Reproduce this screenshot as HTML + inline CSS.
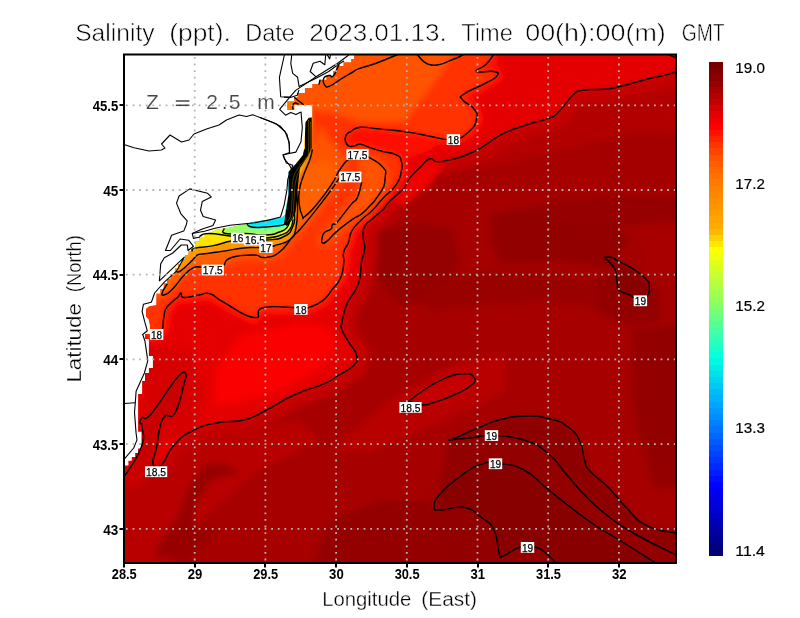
<!DOCTYPE html><html><head><meta charset="utf-8"><style>html,body{margin:0;padding:0;background:#fff;width:800px;height:618px;overflow:hidden}svg{display:block;will-change:transform}text{font-family:"Liberation Sans",sans-serif}</style></head><body>
<svg width="800" height="618" viewBox="0 0 800 618">
<defs><clipPath id="sea"><polygon points="354,54 676,54 676,563 124,563 124,465.6 128.4,465.6 128.4,460.8 131.8,460.8 131.8,456.9 135.2,456.9 135.2,453 138.1,453 138.1,448.6 141.5,448.6 141.5,431.7 138.1,431.7 138.1,394 142.1,394 142.1,381 145,381 145,373 148.9,373 148.9,368 152.9,368 152.9,356 148.9,356 148.9,339 145,339 145,334 149.9,334 149.9,325.6 148.6,319.2 146,316.6 146,308.8 149.2,306.2 156.3,305 156.2,297 156.2,293.4 160.2,293.4 160.2,288.9 163.6,288.9 163.6,283.2 167,283.2 167,278.7 170.4,278.7 170.4,274.2 174.9,274.2 174.9,268.5 178.3,268.5 178.3,264 181.7,264 181.7,259 185.1,259 185.1,255 188.5,255 188.5,251 191.9,251 191.9,247 195.3,247 195.3,241.3 199.5,241.3 199.5,237 204,237 204,234.5 209,233.5 216.5,229.7 230,227.5 240.5,225.2 255,221.5 270,219.5 281,218 285,215 286.5,205 288.5,194 288.5,172 292,168 296,163.7 303,155 304.3,147 305.6,122.3 308.8,117.8 312.2,117.2 312.2,105 294.2,105 294.2,109.9 287.4,109.9 287.4,101.6 294.2,101.6 294.2,97.2 297.6,97.2 297.6,92.9 304.9,92.9 304.9,88 312.2,88 312.2,84.1 319.5,84.1 319.5,79.8 326.3,79.8 326.3,75.9 333.1,75.9 333.1,71 336.5,71 336.5,66.1 343.3,66.1 343.3,62.3 351.1,62.3 351.1,58.9 354,58.9"/></clipPath><clipPath id="box"><rect x="124" y="54.5" width="552" height="508.5"/></clipPath><filter id="bl" x="-5%" y="-5%" width="110%" height="110%"><feGaussianBlur stdDeviation="3"/></filter><filter id="bl2"><feGaussianBlur stdDeviation="0.8"/></filter></defs>
<g clip-path="url(#sea)"><g filter="url(#bl)"><rect x="90" y="20" width="620" height="580" fill="#a60000"/><polygon fill="#b80000" points="90,470 90,600 150,600 200,520 260,470 320,440 300,420 240,430 180,450" /><polygon fill="#b80000" points="330,450 390,400 460,362 505,355 505,392 450,418 370,452" /><polygon fill="#b20000" points="490,30 710,30 710,135 640,130 600,140 560,150 520,160 480,170" /><polygon fill="#a40000" points="600,140 710,140 710,320 650,320 630,250" /><polygon fill="#950000" points="378,232 420,222 452,228 460,262 440,300 400,305 378,280" /><polygon fill="#930000" points="490,215 540,205 600,212 630,240 610,268 560,262 500,265 490,240" /><polygon fill="#960000" points="545,200 600,196 680,196 680,222 620,226 560,222" /><polygon fill="#930000" points="590,280 630,270 660,290 660,322 620,325 590,305" /><polygon fill="#a80000" points="640,228 680,225 680,280 650,280" /><polygon fill="#990000" points="420,290 470,272 540,270 600,285 600,305 540,300 470,305 430,310" /><polygon fill="#930000" points="632,330 710,320 710,480 655,490 635,420" /><polygon fill="#980000" points="241.5,475 224,462.5 204,465 189,485 179,515 161.5,540 154,557.5 186.5,560 219,530 194,527.5 196.5,502.5 211.5,480 229,475" /><polygon fill="#940000" points="300,600 330,520 380,500 430,500 470,600" /><polygon fill="#930000" points="449,440 456.5,437.5 479,427.5 500,419.8 524.3,416.2 548.5,418.6 568,427 580,441.7 584.5,460 590,471.3 608,487 626,507.3 646.4,525.3 676,533 710,533 710,600 470,600 440,530 434,506 445,460" /><polygon fill="#8e0000" points="449,440 456.5,437.5 479,427.5 500,419.8 524.3,416.2 548.5,418.6 568,427 580,441.7 584.5,460 590,471.3 608,487 626,507.3 646.4,525.3 676,533 710,533 710,555 676,555 635,534 608,516 585.6,496 567.6,475.8 548.5,453.8 524,440 491.5,435.5 474,437.5 449,440" /><polygon fill="#880000" points="556,563 545,552.3 533.8,546.7 519,547.5 502.75,556.25 499,552.5 494,530 481.5,517.5 464,507.5 441.5,510 434,506.25 441.5,492.5 459,477.5 479,465 499,463.75 524,470 545,487 567.6,505 594.6,525 624,543 655,562.5 655,600 556,600" /><polygon fill="#880000" points="604.4,257.5 611.7,257.5 619,261.6 631,267.7 645.6,278.6 649.3,287 646.8,296.8 640.3,300.4 628.6,294.4 619,289.5 616.5,277.4 614,267.7" /><polygon fill="#bc0000" stroke="#bc0000" stroke-width="16" stroke-linejoin="round" points="409,401.25 424,390 444,378.75 464,373.75 474,377.5 471.5,385 454,395 434,402.5 421.5,405"/><polygon fill="#c60000" points="409,401.25 424,390 444,378.75 464,373.75 474,377.5 471.5,385 454,395 434,402.5 421.5,405" /><polyline fill="none" stroke="#c20000" stroke-width="26" stroke-linejoin="round" points="676,71 667.5,74.6 645.6,79.5 619,86.8 604.4,89.2 582.5,90.4 572.8,95.3 558.25,112.25 548.5,118.3 524.3,125.6 500,135.3 474,151.5 441.5,161.5 430,158.8 420.6,166.9 410.9,176.6 406,184.7 402.8,189.6 389.9,200.9 382.5,210 371.2,219.7 364.7,226.2 363.1,235.9 364.7,248.8 361.5,261.8 359.9,278 355,290.9 346.9,303.9 342,322 342,330 349,342.5 356.5,355 354,365 339,375 324,383.75 294,395 266.5,410 244,420 219,422.5 194,430 174,445 161.5,465"/><polygon fill="#e40000" points="710,71 676,71 667.5,74.6 645.6,79.5 619,86.8 604.4,89.2 582.5,90.4 572.8,95.3 558.25,112.25 548.5,118.3 524.3,125.6 500,135.3 474,151.5 441.5,161.5 430,158.8 420.6,166.9 410.9,176.6 406,184.7 402.8,189.6 389.9,200.9 382.5,210 371.2,219.7 364.7,226.2 363.1,235.9 364.7,248.8 361.5,261.8 359.9,278 355,290.9 346.9,303.9 342,322 342,330 349,342.5 356.5,355 354,365 339,375 324,383.75 294,395 266.5,410 244,420 219,422.5 194,430 174,445 161.5,465 153,464 156.4,448 162.8,418.8 175,412.8 184.7,381.3 185.9,375.2 182.3,372.8 172.5,383.7 155.6,408 147,417.7 142.2,417.7 139.8,422.5 142.2,427.4 141,448 124,477 90,477 90,20 710,20" /><polyline fill="none" stroke="#ff0800" stroke-width="14" stroke-linejoin="round" points="494,54 486.5,64 476.5,71.5 494,71.5 496.5,76.5 484,84 464,94 462.75,100 474,109 476.5,119 469,131.5 453,139.5 430,136.2 407.7,132.1 378.5,128.9 360.7,127.3 351,131.3 346.2,135.4 345.4,141 348.6,145.9 354.3,145.9 360.7,144.3 372,148.3 383.4,151.6 396.3,154.8 401.2,160.5 401.2,171.8 396.3,184.7 383.4,197.7 372.8,210 361.5,219.7 351.8,231 348.5,242.4 343.7,252.1 343.7,263.4 340.5,278 332.4,289.3 322.7,300.6 309.7,307.1 301,308 264,307.5 254,317.5 224,302.5 210,293.75 199,295 184,297.5 181,293 178,297 173.2,301 166.7,307.5 164.1,315.3 162.8,328.2 156,335 145,335"/><polygon fill="#fa0000" points="240,335 300,322 328,326 336,348 318,370 290,386 250,400 215,405 215,370" /><polygon fill="#d60000" points="145,345 190,352 205,390 196,425 170,440 145,440" /><polygon fill="#f20000" points="420,165 445,160 430,185 400,205 390,190" /><polygon fill="#c80000" points="153,464 156.4,448 162.8,418.8 175,412.8 184.7,381.3 185.9,375.2 182.3,372.8 172.5,383.7 155.6,408 147,417.7 142.2,417.7 139.8,422.5 142.2,427.4 141,448 124,477 124,490 150,480" /><polygon fill="#ff3000" points="494,20 494,54 486.5,64 476.5,71.5 494,71.5 496.5,76.5 484,84 464,94 462.75,100 474,109 476.5,119 469,131.5 453,139.5 430,136.2 407.7,132.1 378.5,128.9 360.7,127.3 351,131.3 346.2,135.4 345.4,141 348.6,145.9 354.3,145.9 360.7,144.3 372,148.3 383.4,151.6 396.3,154.8 401.2,160.5 401.2,171.8 396.3,184.7 383.4,197.7 372.8,210 361.5,219.7 351.8,231 348.5,242.4 343.7,252.1 343.7,263.4 340.5,278 332.4,289.3 322.7,300.6 309.7,307.1 301,308 264,307.5 254,317.5 224,302.5 210,293.75 199,295 184,297.5 181,293 178,297 173.2,301 166.7,307.5 164.1,315.3 162.8,328.2 156,335 145,335 90,335 90,20" /><polygon fill="#ff1000" points="346,140 351,131.3 360.7,127.3 378.5,128.9 407.7,132.1 430,136.2 445,138 430,150 401.2,160.5 396.3,154.8 383.4,151.6 372,148.3 360.7,144.3 354.3,145.9 348.6,145.9" /><polyline fill="none" stroke="#ff4200" stroke-width="12" stroke-linejoin="round" points="339,178.3 330.8,190.5 321.1,203.4 308.2,219.6 298.5,230.9 292,237.4 279,252.5 264,257.5 254,255 231.5,257.5 224,265"/><polyline fill="none" stroke="#ff4200" stroke-width="12" stroke-linejoin="round" points="368.5,157 382.5,166.7 385.2,177.4 379.9,193.4 364.7,211.2 352,219.6 337.3,230.9 327.6,240.6 322.7,243 321.9,239 324.4,232.5 330.8,229.3 332.5,224.4 335.7,223.6 340.5,218 352,203.4 356,200 359.1,192.8 361.6,182.5"/><polyline fill="none" stroke="#ff4200" stroke-width="12" stroke-linejoin="round" points="312.2,150 309.8,159.7 303.3,175.9 299.3,190.5 299.3,205 302.5,216.3 305,216.3 316.3,205 330.8,185.6 339,171 345.4,162.1 347.8,160.5"/><polygon fill="#ff5200" points="270,20 470,20 450,60 425,95 405,122 360,122 330,112 312,112 270,115" /><polygon fill="#ff5200" points="312.2,150 309.8,159.7 303.3,175.9 299.3,190.5 299.3,205 302.5,216.3 305,216.3 316.3,205 330.8,185.6 339,171 345.4,162.1 347.8,160.5 330,140 320,125" /><polygon fill="#ff5200" points="368.5,157 382.5,166.7 385.2,177.4 379.9,193.4 364.7,211.2 352,219.6 337.3,230.9 327.6,240.6 322.7,243 321.9,239 324.4,232.5 330.8,229.3 332.5,224.4 335.7,223.6 340.5,218 352,203.4 356,200 359.1,192.8 361.6,182.5 361,172 357,160" /><polygon fill="#ff6000" points="339,178.3 330.8,190.5 321.1,203.4 308.2,219.6 298.5,230.9 292,237.4 279,252.5 264,257.5 254,255 231.5,257.5 224,265 201,267 193,268 184,275.3 172.6,288.9 162,296 150,300 150,117 296,117 312,117 312,150 305,165 330,160" /></g><g filter="url(#bl2)"><polygon fill="#ff7400" points="284,98 296,98 296,112 284,112" /><polygon fill="#ff9800" points="177.2,271.9 180.6,270.8 188.5,264 193,259.4 197.6,254.9 204.4,253.8 221.3,251.5 243.5,248 259,247.5 272.75,246 275,245.5 290,239.5 296,227.5 297.5,205 296,190 296,190 300,176 310,158 312,117 150,117 150,280" /><polygon fill="#ffe400" points="192,251 195.3,248.1 212.3,245.9 230,241.3 240,240 266,240 284,236.5 293,226 294.5,212.5 294,190 294,190 300,170 308,150 312,117 150,117 150,246" /><polygon fill="#e0ff20" points="200,236 209,233.5 230,236 244,237.5 266,238 281,235 290,229 293,220 293,205 290,170 150,170 150,236" /><polygon fill="#98ff68" points="224,229 225.5,233.5 245,233.5 266,235 279.5,232 287,227.5 290,220 290,200 224,200" /><polygon fill="#40ffc0" points="246,223 289,215 289,226 270,229 250,229" /><polygon fill="#00e8ff" points="247,223.5 250.5,226.8 262,227.3 276,226 285,224 289,218 289,172 248,200" /></g></g>
<g clip-path="url(#box)" fill="none" stroke="#000" stroke-width="1.45" stroke-linejoin="round" stroke-linecap="round">
<path d="M676.0,71.0 C673.7,72.0 675.6,72.3 667.5,74.6 C659.4,76.9 658.5,76.2 645.6,79.5 C632.7,82.8 630.0,84.2 619.0,86.8 C608.0,89.4 614.1,88.2 604.4,89.2 C594.7,90.2 590.9,88.8 582.5,90.4 C574.1,92.0 579.3,89.5 572.8,95.3 C566.3,101.1 564.7,106.1 558.2,112.2 C551.8,118.4 557.6,114.7 548.5,118.3 C539.4,121.9 537.2,121.1 524.3,125.6 C511.4,130.1 513.4,128.4 500.0,135.3 C486.6,142.2 489.6,144.5 474.0,151.5 C458.4,158.5 453.2,159.6 441.5,161.5 C429.8,163.4 435.6,157.4 430.0,158.8 C424.4,160.2 425.7,162.2 420.6,166.9 C415.5,171.6 414.8,171.9 410.9,176.6 C407.0,181.3 408.2,181.2 406.0,184.7 C403.8,188.2 407.1,185.3 402.8,189.6 C398.5,193.9 395.3,195.5 389.9,200.9 C384.5,206.3 387.5,205.0 382.5,210.0 C377.5,215.0 375.9,215.4 371.2,219.7 C366.5,224.0 366.9,221.9 364.7,226.2 C362.5,230.5 363.1,229.9 363.1,235.9 C363.1,241.9 365.1,241.9 364.7,248.8 C364.3,255.7 362.8,254.0 361.5,261.8 C360.2,269.6 361.6,270.2 359.9,278.0 C358.2,285.8 358.5,284.0 355.0,290.9 C351.5,297.8 350.4,295.6 346.9,303.9 C343.4,312.2 343.3,315.0 342.0,322.0 C340.7,329.0 340.1,324.5 342.0,330.0 C343.9,335.5 345.1,335.8 349.0,342.5 C352.9,349.2 355.2,349.0 356.5,355.0 C357.8,361.0 358.7,359.7 354.0,365.0 C349.3,370.3 347.0,370.0 339.0,375.0 C331.0,380.0 336.0,378.4 324.0,383.8 C312.0,389.1 309.3,388.0 294.0,395.0 C278.7,402.0 279.8,403.3 266.5,410.0 C253.2,416.7 256.7,416.7 244.0,420.0 C231.3,423.3 232.3,419.8 219.0,422.5 C205.7,425.2 206.0,424.0 194.0,430.0 C182.0,436.0 182.7,435.7 174.0,445.0 C165.3,454.3 167.1,459.9 161.5,465.0 C155.9,470.1 154.4,468.5 153.0,464.0 C151.6,459.5 153.8,460.1 156.4,448.0 C159.0,435.9 157.8,428.2 162.8,418.8 C167.8,409.4 169.2,422.8 175.0,412.8 C180.8,402.8 181.8,391.3 184.7,381.3 C187.6,371.3 186.5,377.5 185.9,375.2 C185.3,372.9 185.9,370.5 182.3,372.8 C178.7,375.1 179.6,374.3 172.5,383.7 C165.4,393.1 162.4,398.9 155.6,408.0 C148.8,417.1 150.6,415.1 147.0,417.7 C143.4,420.3 144.1,416.4 142.2,417.7 C140.3,419.0 139.8,419.9 139.8,422.5 C139.8,425.1 141.9,420.6 142.2,427.4 C142.5,434.2 145.9,434.8 141.0,448.0 C136.1,461.2 128.5,469.3 124.0,477.0"/>
<path d="M494.0,54.0 C492.0,56.7 491.2,59.3 486.5,64.0 C481.8,68.7 474.5,69.5 476.5,71.5 C478.5,73.5 488.7,70.2 494.0,71.5 C499.3,72.8 499.2,73.2 496.5,76.5 C493.8,79.8 492.7,79.3 484.0,84.0 C475.3,88.7 469.7,89.7 464.0,94.0 C458.3,98.3 460.1,96.0 462.8,100.0 C465.4,104.0 470.3,103.9 474.0,109.0 C477.7,114.1 477.8,113.0 476.5,119.0 C475.2,125.0 475.3,126.0 469.0,131.5 C462.7,137.0 463.4,138.2 453.0,139.5 C442.6,140.8 442.1,138.2 430.0,136.2 C417.9,134.2 421.4,134.0 407.7,132.1 C394.0,130.2 391.0,130.2 378.5,128.9 C366.0,127.6 368.0,126.7 360.7,127.3 C353.4,127.9 354.9,129.1 351.0,131.3 C347.1,133.5 347.7,132.8 346.2,135.4 C344.7,138.0 344.8,138.2 345.4,141.0 C346.0,143.8 346.2,144.6 348.6,145.9 C351.0,147.2 351.1,146.3 354.3,145.9 C357.5,145.5 356.0,143.7 360.7,144.3 C365.4,144.9 365.9,146.4 372.0,148.3 C378.1,150.2 376.9,149.9 383.4,151.6 C389.9,153.3 391.6,152.4 396.3,154.8 C401.0,157.2 399.9,156.0 401.2,160.5 C402.5,165.0 402.5,165.3 401.2,171.8 C399.9,178.3 401.0,177.8 396.3,184.7 C391.6,191.6 389.7,191.0 383.4,197.7 C377.1,204.4 378.6,204.1 372.8,210.0 C367.0,215.9 367.1,214.1 361.5,219.7 C355.9,225.3 355.3,224.9 351.8,231.0 C348.3,237.1 350.7,236.8 348.5,242.4 C346.3,248.0 345.0,246.5 343.7,252.1 C342.4,257.7 344.6,256.5 343.7,263.4 C342.8,270.3 343.5,271.1 340.5,278.0 C337.5,284.9 337.1,283.3 332.4,289.3 C327.7,295.3 328.8,295.9 322.7,300.6 C316.6,305.3 315.5,305.1 309.7,307.1 C303.9,309.1 313.2,307.9 301.0,308.0 C288.8,308.1 276.5,305.0 264.0,307.5 C251.5,310.0 264.7,318.8 254.0,317.5 C243.3,316.2 235.7,308.8 224.0,302.5 C212.3,296.2 216.7,295.8 210.0,293.8 C203.3,291.8 205.9,294.0 199.0,295.0 C192.1,296.0 188.8,298.0 184.0,297.5 C179.2,297.0 182.6,293.1 181.0,293.0 C179.4,292.9 180.1,294.9 178.0,297.0 C175.9,299.1 176.2,298.2 173.2,301.0 C170.2,303.8 169.1,303.7 166.7,307.5 C164.3,311.3 165.1,309.8 164.1,315.3 C163.1,320.8 163.1,324.8 162.8,328.2"/>
<path d="M399.0,54.0 C392.3,56.7 384.7,60.1 374.0,64.0 C363.3,67.9 364.9,66.3 359.0,68.6 C353.1,70.9 357.0,69.6 352.0,72.5 C347.0,75.4 346.3,75.7 340.4,79.3 C334.5,82.9 333.9,84.6 329.7,86.1 C325.5,87.6 326.4,87.2 324.8,85.1 C323.2,83.0 322.5,80.9 323.8,78.3 C325.1,75.7 327.6,75.8 329.7,75.4 C331.8,75.0 330.3,77.1 331.6,76.8 C332.9,76.5 332.9,76.9 334.5,74.4 C336.1,71.9 336.3,70.1 337.5,67.6 C338.7,65.1 338.6,65.7 339.0,65.0"/>
<path d="M320,80.2 L319,84.1"/>
<path d="M294.7,97.7 L303.4,104.5"/>
<path d="M293.0,109.0 C292.9,107.9 292.2,106.6 292.7,105.0 C293.2,103.4 293.4,103.1 295.0,103.0 C296.6,102.9 297.6,104.1 298.6,104.5"/>
<path d="M416.5,54.0 C420.5,56.9 421.5,63.7 431.5,65.0 C441.5,66.3 445.3,61.9 454.0,59.0 C462.7,56.1 461.3,55.3 464.0,54.0"/>
<path d="M312.2,150.0 C311.6,152.6 312.2,152.8 309.8,159.7 C307.4,166.6 306.1,167.7 303.3,175.9 C300.5,184.1 300.4,182.7 299.3,190.5 C298.2,198.3 298.4,198.1 299.3,205.0 C300.2,211.9 301.0,213.3 302.5,216.3 C304.0,219.3 301.3,219.3 305.0,216.3 C308.7,213.3 309.4,213.2 316.3,205.0 C323.2,196.8 324.7,194.7 330.8,185.6 C336.9,176.5 335.1,177.3 339.0,171.0 C342.9,164.7 343.1,164.9 345.4,162.1 C347.7,159.3 347.2,160.9 347.8,160.5"/>
<path d="M368.5,157.0 C372.2,159.6 378.0,161.3 382.5,166.7 C387.0,172.1 385.9,170.3 385.2,177.4 C384.5,184.5 385.4,184.4 379.9,193.4 C374.4,202.4 372.1,204.2 364.7,211.2 C357.3,218.2 359.3,214.3 352.0,219.6 C344.7,224.9 343.8,225.3 337.3,230.9 C330.8,236.5 331.5,237.4 327.6,240.6 C323.7,243.8 324.2,243.4 322.7,243.0 C321.2,242.6 321.4,241.8 321.9,239.0 C322.4,236.2 322.0,235.1 324.4,232.5 C326.8,229.9 328.6,231.5 330.8,229.3 C333.0,227.1 331.2,225.9 332.5,224.4 C333.8,222.9 333.6,225.3 335.7,223.6 C337.8,221.9 336.2,223.4 340.5,218.0 C344.8,212.6 347.9,208.2 352.0,203.4 C356.1,198.6 354.1,202.8 356.0,200.0 C357.9,197.2 357.6,197.5 359.1,192.8 C360.6,188.1 360.9,185.2 361.6,182.5"/>
<path d="M339.0,178.3 C336.8,181.6 335.6,183.8 330.8,190.5 C326.0,197.2 327.1,195.6 321.1,203.4 C315.1,211.2 314.2,212.3 308.2,219.6 C302.2,226.9 302.8,226.2 298.5,230.9 C294.2,235.6 297.2,231.6 292.0,237.4 C286.8,243.2 286.5,247.1 279.0,252.5 C271.5,257.9 270.7,256.8 264.0,257.5 C257.3,258.2 262.7,255.0 254.0,255.0 C245.3,255.0 239.5,254.8 231.5,257.5 C223.5,260.2 226.0,263.0 224.0,265.0"/>
<path d="M201.0,267.0 C198.9,267.3 197.5,265.8 193.0,268.0 C188.5,270.2 189.4,269.7 184.0,275.3 C178.6,280.9 177.9,283.6 172.6,288.9 C167.3,294.2 166.7,294.2 164.0,295.0 C161.3,295.8 161.7,294.8 162.5,292.0 C163.3,289.2 165.8,286.4 167.0,284.4"/>
<path d="M177.2,271.9 C178.1,271.6 177.6,272.9 180.6,270.8 C183.6,268.7 185.2,267.0 188.5,264.0 C191.8,261.0 190.6,261.8 193.0,259.4 C195.4,257.0 194.6,256.4 197.6,254.9 C200.6,253.4 198.1,254.7 204.4,253.8 C210.7,252.9 210.9,253.0 221.3,251.5 C231.7,250.0 233.4,249.1 243.5,248.0 C253.6,246.9 251.2,248.0 259.0,247.5 C266.8,247.0 268.5,246.5 272.8,246.0 C277.0,245.5 270.4,247.2 275.0,245.5 C279.6,243.8 284.4,244.3 290.0,239.5 C295.6,234.7 294.0,236.7 296.0,227.5 C298.0,218.3 297.5,215.0 297.5,205.0 C297.5,195.0 296.4,194.0 296.0,190.0"/>
<path d="M192.0,251.0 C192.9,250.2 189.9,249.5 195.3,248.1 C200.7,246.7 203.0,247.7 212.3,245.9 C221.6,244.1 222.6,242.9 230.0,241.3 C237.4,239.7 230.4,240.3 240.0,240.0 C249.6,239.7 254.3,240.9 266.0,240.0 C277.7,239.1 276.8,240.2 284.0,236.5 C291.2,232.8 290.2,232.4 293.0,226.0 C295.8,219.6 294.2,222.1 294.5,212.5 C294.8,202.9 294.1,196.0 294.0,190.0"/>
<path d="M200.0,236.0 C202.4,235.3 201.0,233.5 209.0,233.5 C217.0,233.5 220.7,234.9 230.0,236.0 C239.3,237.1 234.4,237.0 244.0,237.5 C253.6,238.0 256.1,238.7 266.0,238.0 C275.9,237.3 274.6,237.4 281.0,235.0 C287.4,232.6 286.8,233.0 290.0,229.0 C293.2,225.0 292.2,222.4 293.0,220.0"/>
<path d="M224.0,229.0 C224.4,230.2 219.9,232.3 225.5,233.5 C231.1,234.7 234.2,233.1 245.0,233.5 C255.8,233.9 256.8,235.4 266.0,235.0 C275.2,234.6 273.9,234.0 279.5,232.0 C285.1,230.0 284.2,230.7 287.0,227.5 C289.8,224.3 289.2,222.0 290.0,220.0"/>
<path d="M247.0,223.5 C247.9,224.4 246.5,225.8 250.5,226.8 C254.5,227.8 255.2,227.5 262.0,227.3 C268.8,227.1 269.9,226.9 276.0,226.0 C282.1,225.1 281.5,226.1 285.0,224.0 C288.5,221.9 287.9,219.6 289.0,218.0"/>
<path d="M449.0,440.0 C451.0,439.3 448.5,440.8 456.5,437.5 C464.5,434.2 467.4,432.2 479.0,427.5 C490.6,422.8 487.9,422.8 500.0,419.8 C512.1,416.8 511.4,416.5 524.3,416.2 C537.2,415.9 536.8,415.7 548.5,418.6 C560.2,421.5 559.6,420.8 568.0,427.0 C576.4,433.2 575.6,432.9 580.0,441.7 C584.4,450.5 581.8,452.1 584.5,460.0 C587.2,467.9 583.7,464.1 590.0,471.3 C596.3,478.5 598.4,477.4 608.0,487.0 C617.6,496.6 615.8,497.1 626.0,507.3 C636.2,517.5 633.1,518.4 646.4,525.3 C659.7,532.2 668.1,530.9 676.0,533.0"/>
<path d="M449.0,440.0 C455.7,439.3 462.7,438.7 474.0,437.5 C485.3,436.3 478.2,434.8 491.5,435.5 C504.8,436.2 508.8,435.1 524.0,440.0 C539.2,444.9 536.9,444.3 548.5,453.8 C560.1,463.3 557.7,464.5 567.6,475.8 C577.5,487.1 574.8,485.3 585.6,496.0 C596.4,506.7 594.8,505.9 608.0,516.0 C621.2,526.1 616.9,523.6 635.0,534.0 C653.1,544.4 665.1,549.4 676.0,555.0"/>
<path d="M556.0,563.0 C553.1,560.1 550.9,556.6 545.0,552.3 C539.1,548.0 540.7,548.0 533.8,546.7 C526.9,545.4 527.3,545.0 519.0,547.5 C510.7,550.0 508.1,554.9 502.8,556.2 C497.4,557.6 501.3,559.5 499.0,552.5 C496.7,545.5 498.7,539.3 494.0,530.0 C489.3,520.7 489.5,523.5 481.5,517.5 C473.5,511.5 474.7,509.5 464.0,507.5 C453.3,505.5 449.5,510.3 441.5,510.0 C433.5,509.7 434.0,510.9 434.0,506.2 C434.0,501.6 434.8,500.2 441.5,492.5 C448.2,484.8 449.0,484.8 459.0,477.5 C469.0,470.2 468.3,468.7 479.0,465.0 C489.7,461.3 487.0,462.4 499.0,463.8 C511.0,465.1 511.7,463.8 524.0,470.0 C536.3,476.2 533.4,477.7 545.0,487.0 C556.6,496.3 554.4,494.9 567.6,505.0 C580.8,515.1 579.6,514.9 594.6,525.0 C609.6,535.1 607.9,533.0 624.0,543.0 C640.1,553.0 646.7,557.3 655.0,562.5"/>
<path d="M604.4,257.5 C606.3,257.5 607.8,256.4 611.7,257.5 C615.6,258.6 613.9,258.9 619.0,261.6 C624.1,264.3 623.9,263.2 631.0,267.7 C638.1,272.2 640.7,273.5 645.6,278.6 C650.5,283.7 649.0,282.1 649.3,287.0 C649.6,291.9 649.2,293.2 646.8,296.8 C644.4,300.4 645.2,301.0 640.3,300.4 C635.4,299.8 634.3,297.3 628.6,294.4 C622.9,291.5 622.2,294.0 619.0,289.5 C615.8,285.0 617.8,283.2 616.5,277.4 C615.2,271.6 617.2,273.0 614.0,267.7 C610.8,262.4 607.0,260.2 604.4,257.5"/>
<path d="M409.0,401.2 C413.0,398.2 414.7,396.0 424.0,390.0 C433.3,384.0 433.3,383.1 444.0,378.8 C454.7,374.4 456.0,374.1 464.0,373.8 C472.0,373.4 472.0,374.5 474.0,377.5 C476.0,380.5 476.8,380.3 471.5,385.0 C466.2,389.7 464.0,390.3 454.0,395.0 C444.0,399.7 442.7,399.8 434.0,402.5 C425.3,405.2 428.2,405.3 421.5,405.0 C414.8,404.7 412.3,402.2 409.0,401.2"/>
<path d="M667.5,54 L675.2,57.6"/>
</g>
<g clip-path="url(#sea)" fill="none" stroke="#000" stroke-width="1.4" stroke-linejoin="round">
<polygon fill="#0090e0" stroke="none" points="287.5,172 290,170 289.5,196 287.5,196"/>
<polygon fill="#000" stroke="none" points="305,117.5 311.7,117.5 311.7,148 308,156 300,168 298,185 297,200 295.5,212 292,220 287,226 284,224 285.5,214 287,205 288.5,194 288.5,172 292,163 302,155 305,148"/>
<g stroke="#a07000" stroke-width="0.5" fill="none">
<path d="M308.5,120.0 C308.5,128.0 309.2,139.9 308.5,150.0 C307.8,160.1 308.5,153.5 306.0,158.0 C303.5,162.5 302.5,161.1 299.0,167.0 C295.5,172.9 294.9,171.2 293.0,180.0 C291.1,188.8 292.7,190.7 292.0,200.0 C291.3,209.3 291.8,209.1 290.5,215.0 C289.2,220.9 287.9,220.1 287.0,222.0"/>
<path d="M310.5,122.0 C310.5,129.5 311.2,140.4 310.5,150.0 C309.8,159.6 310.5,153.2 308.0,158.0 C305.5,162.8 304.2,162.1 301.0,168.0 C297.8,173.9 297.9,171.5 296.0,180.0 C294.1,188.5 294.8,190.9 294.0,200.0 C293.2,209.1 294.1,208.4 293.0,214.0 C291.9,219.6 290.8,219.1 290.0,221.0"/>
</g>
</g>
<g fill="none" stroke="#000" stroke-width="1.1" stroke-linejoin="round">
<polyline points="124,144.5 134,147.75 149,151 161.5,150 165,148 161.5,144 170,135 181.5,142 189,140 194,134 206.5,129 219,125 226.5,120 239,115 246.5,116.5 252.75,114.75 264,119 276.5,124 285,131.5 289,141.5 289.6,152.4 283.4,155.1 286.3,163.1 292.8,165.3 287.8,179.1 287,189.3 284.1,205.3 280.5,217 269.6,219.9 255,222.8 245,223.7 230,225.2 215,228.2 204.5,231.2 192.2,233.5 193.5,238.4 200,237"/>
<polyline points="192.2,233.5 202.3,228.9 213,225.4 215.6,220 203.2,216.5 200.5,210.2 202.3,201.4 211.2,196.9 207.6,193.3 189.8,188.9 179.1,196 176.5,203.1 180.9,213.8 187.2,220.9 186.2,225 183.7,231.1 171.6,235.3 165.5,250.5 170.4,250.5 180.1,239 188.6,240.2 193.5,246.3 188,250.5 187.4,245 181.3,245 172.8,253 164.3,257.8 160.7,263.9 159.4,280.9 184.3,257.2 176.5,271.2 164.3,282.1 154.6,293 152.2,300 151.2,302.3 143.4,304.3 142.1,311.4 144.7,321.7 147.3,330.8 142.7,334.5 145,341.3 147.8,360.6 144.4,373 136.1,391.3 135.3,402.7 134.5,412.4 136.1,433.4 137,439.9 133.7,448 124,459.3"/>
<polyline points="124,403.5 135.3,402.7"/>
<polyline points="284.6,54 279.4,77.3 280.7,96.7 290.4,97.4 297.2,95.2 299,90"/>
<polyline points="291.8,54 290.8,63.7 292.7,73.4 297.6,77.3 299.1,86.6 316.1,78.3 328.7,71.5 338.4,64.2 344,61"/>
<polyline points="279.4,109.7 289.8,97.2 295.7,90.4 316.1,76.8 327.7,69.5 338.4,62.7 348.1,55.5 349,54"/>
<polyline points="284,97.2 289.8,97.2"/>
<polyline points="325.8,54 324.8,64.7 320,61.3 313.2,63.2 310.2,71.5 316.1,76.8"/>
<polyline points="326.8,54 329.7,58.9 330.6,54"/>
<polyline points="279.7,109.4 285.5,115.2 290.7,112.6 295.9,114.6 301,112 302.3,127.5 301,141.7 295.9,152.1 282.9,154.7 284.2,158.6 289.4,165 292,170"/>
<polyline points="260,117.5 273,122.6 280.3,126.2 286.8,134 289.4,144.3 289.4,153.4"/>
</g>
<g stroke="#b4b4b4" stroke-width="1.8" stroke-dasharray="1.8 4.8" clip-path="url(#box)">
<line x1="194.7" y1="57" x2="194.7" y2="563"/>
<line x1="265.4" y1="57" x2="265.4" y2="563"/>
<line x1="336.1" y1="57" x2="336.1" y2="563"/>
<line x1="406.8" y1="57" x2="406.8" y2="563"/>
<line x1="477.5" y1="57" x2="477.5" y2="563"/>
<line x1="548.2" y1="57" x2="548.2" y2="563"/>
<line x1="618.9" y1="57" x2="618.9" y2="563"/>
<line x1="126" y1="105.3" x2="676" y2="105.3"/>
<line x1="126" y1="190" x2="676" y2="190"/>
<line x1="126" y1="274.7" x2="676" y2="274.7"/>
<line x1="126" y1="359.4" x2="676" y2="359.4"/>
<line x1="126" y1="444.1" x2="676" y2="444.1"/>
<line x1="126" y1="528.8" x2="676" y2="528.8"/>
</g>
<rect x="446.70" y="134.20" width="13.40" height="10.8" fill="#fff"/>
<text x="453.40" y="143.90" font-size="11.6" text-anchor="middle" stroke="#000" stroke-width="0.25" textLength="11.20" lengthAdjust="spacingAndGlyphs">18</text>
<rect x="346.40" y="149.00" width="22.20" height="10.8" fill="#fff"/>
<text x="357.50" y="158.70" font-size="11.6" text-anchor="middle" stroke="#000" stroke-width="0.25" textLength="20.00" lengthAdjust="spacingAndGlyphs">17.5</text>
<rect x="339.20" y="171.60" width="22.20" height="10.8" fill="#fff"/>
<text x="350.30" y="181.30" font-size="11.6" text-anchor="middle" stroke="#000" stroke-width="0.25" textLength="20.00" lengthAdjust="spacingAndGlyphs">17.5</text>
<rect x="294.20" y="304.00" width="13.40" height="10.8" fill="#fff"/>
<text x="300.90" y="313.70" font-size="11.6" text-anchor="middle" stroke="#000" stroke-width="0.25" textLength="11.20" lengthAdjust="spacingAndGlyphs">18</text>
<rect x="201.65" y="264.60" width="22.20" height="10.8" fill="#fff"/>
<text x="212.75" y="274.30" font-size="11.6" text-anchor="middle" stroke="#000" stroke-width="0.25" textLength="20.00" lengthAdjust="spacingAndGlyphs">17.5</text>
<rect x="231.05" y="232.60" width="13.40" height="10.8" fill="#fff"/>
<text x="237.75" y="242.30" font-size="11.6" text-anchor="middle" stroke="#000" stroke-width="0.25" textLength="11.20" lengthAdjust="spacingAndGlyphs">16</text>
<rect x="243.90" y="234.60" width="22.20" height="10.8" fill="#fff"/>
<text x="255.00" y="244.30" font-size="11.6" text-anchor="middle" stroke="#000" stroke-width="0.25" textLength="20.00" lengthAdjust="spacingAndGlyphs">16.5</text>
<rect x="259.20" y="242.10" width="13.40" height="10.8" fill="#fff"/>
<text x="265.90" y="251.80" font-size="11.6" text-anchor="middle" stroke="#000" stroke-width="0.25" textLength="11.20" lengthAdjust="spacingAndGlyphs">17</text>
<rect x="149.90" y="329.00" width="13.40" height="10.8" fill="#fff"/>
<text x="156.60" y="338.70" font-size="11.6" text-anchor="middle" stroke="#000" stroke-width="0.25" textLength="11.20" lengthAdjust="spacingAndGlyphs">18</text>
<rect x="145.00" y="466.30" width="22.20" height="10.8" fill="#fff"/>
<text x="156.10" y="476.00" font-size="11.6" text-anchor="middle" stroke="#000" stroke-width="0.25" textLength="20.00" lengthAdjust="spacingAndGlyphs">18.5</text>
<rect x="399.40" y="402.00" width="22.20" height="10.8" fill="#fff"/>
<text x="410.50" y="411.70" font-size="11.6" text-anchor="middle" stroke="#000" stroke-width="0.25" textLength="20.00" lengthAdjust="spacingAndGlyphs">18.5</text>
<rect x="484.80" y="430.20" width="13.40" height="10.8" fill="#fff"/>
<text x="491.50" y="439.90" font-size="11.6" text-anchor="middle" stroke="#000" stroke-width="0.25" textLength="11.20" lengthAdjust="spacingAndGlyphs">19</text>
<rect x="488.80" y="458.35" width="13.40" height="10.8" fill="#fff"/>
<text x="495.50" y="468.05" font-size="11.6" text-anchor="middle" stroke="#000" stroke-width="0.25" textLength="11.20" lengthAdjust="spacingAndGlyphs">19</text>
<rect x="520.80" y="542.00" width="13.40" height="10.8" fill="#fff"/>
<text x="527.50" y="551.70" font-size="11.6" text-anchor="middle" stroke="#000" stroke-width="0.25" textLength="11.20" lengthAdjust="spacingAndGlyphs">19</text>
<rect x="633.70" y="295.40" width="13.40" height="10.8" fill="#fff"/>
<text x="640.40" y="305.10" font-size="11.6" text-anchor="middle" stroke="#000" stroke-width="0.25" textLength="11.20" lengthAdjust="spacingAndGlyphs">19</text>
<rect x="124" y="54.5" width="552" height="508.5" fill="none" stroke="#000" stroke-width="2"/>
<g stroke="#000" stroke-width="2"><line x1="124" y1="563" x2="124" y2="567.5"/><line x1="195" y1="563" x2="195" y2="567.5"/><line x1="265" y1="563" x2="265" y2="567.5"/><line x1="336" y1="563" x2="336" y2="567.5"/><line x1="407" y1="563" x2="407" y2="567.5"/><line x1="478" y1="563" x2="478" y2="567.5"/><line x1="548" y1="563" x2="548" y2="567.5"/><line x1="619" y1="563" x2="619" y2="567.5"/><line x1="119.5" y1="105" x2="124" y2="105"/><line x1="119.5" y1="190" x2="124" y2="190"/><line x1="119.5" y1="275" x2="124" y2="275"/><line x1="119.5" y1="359" x2="124" y2="359"/><line x1="119.5" y1="444" x2="124" y2="444"/><line x1="119.5" y1="529" x2="124" y2="529"/></g>
<text x="124.3" y="578.8" font-size="14.2" font-weight="bold" text-anchor="middle" textLength="24.9" lengthAdjust="spacingAndGlyphs">28.5</text>
<text x="195.0" y="578.8" font-size="14.2" font-weight="bold" text-anchor="middle" textLength="14.6" lengthAdjust="spacingAndGlyphs">29</text>
<text x="265.7" y="578.8" font-size="14.2" font-weight="bold" text-anchor="middle" textLength="24.9" lengthAdjust="spacingAndGlyphs">29.5</text>
<text x="336.40000000000003" y="578.8" font-size="14.2" font-weight="bold" text-anchor="middle" textLength="14.6" lengthAdjust="spacingAndGlyphs">30</text>
<text x="407.1" y="578.8" font-size="14.2" font-weight="bold" text-anchor="middle" textLength="24.9" lengthAdjust="spacingAndGlyphs">30.5</text>
<text x="477.8" y="578.8" font-size="14.2" font-weight="bold" text-anchor="middle" textLength="14.6" lengthAdjust="spacingAndGlyphs">31</text>
<text x="548.5" y="578.8" font-size="14.2" font-weight="bold" text-anchor="middle" textLength="24.9" lengthAdjust="spacingAndGlyphs">31.5</text>
<text x="619.1999999999999" y="578.8" font-size="14.2" font-weight="bold" text-anchor="middle" textLength="14.6" lengthAdjust="spacingAndGlyphs">32</text>
<text x="118.3" y="111.0" font-size="14.2" font-weight="bold" text-anchor="end" textLength="25.5" lengthAdjust="spacingAndGlyphs">45.5</text>
<text x="118.3" y="195.7" font-size="14.2" font-weight="bold" text-anchor="end" textLength="15.0" lengthAdjust="spacingAndGlyphs">45</text>
<text x="118.3" y="280.4" font-size="14.2" font-weight="bold" text-anchor="end" textLength="25.5" lengthAdjust="spacingAndGlyphs">44.5</text>
<text x="118.3" y="365.09999999999997" font-size="14.2" font-weight="bold" text-anchor="end" textLength="15.0" lengthAdjust="spacingAndGlyphs">44</text>
<text x="118.3" y="449.8" font-size="14.2" font-weight="bold" text-anchor="end" textLength="25.5" lengthAdjust="spacingAndGlyphs">43.5</text>
<text x="118.3" y="534.5" font-size="14.2" font-weight="bold" text-anchor="end" textLength="15.0" lengthAdjust="spacingAndGlyphs">43</text>
<text x="75.2" y="41.3" font-size="23.5" stroke="#fff" stroke-width="0.55" textLength="79.35" lengthAdjust="spacingAndGlyphs">Salinity</text>
<text x="169.2" y="41.3" font-size="23.5" stroke="#fff" stroke-width="0.55" textLength="61.6" lengthAdjust="spacingAndGlyphs">(ppt).</text>
<text x="245.2" y="41.3" font-size="23.5" stroke="#fff" stroke-width="0.55" textLength="49.6" lengthAdjust="spacingAndGlyphs">Date</text>
<text x="309.2" y="41.3" font-size="23.5" stroke="#fff" stroke-width="0.55" textLength="137.6" lengthAdjust="spacingAndGlyphs">2023.01.13.</text>
<text x="461.2" y="41.3" font-size="23.5" stroke="#fff" stroke-width="0.55" textLength="51.6" lengthAdjust="spacingAndGlyphs">Time</text>
<text x="525.2" y="41.3" font-size="23.5" stroke="#fff" stroke-width="0.55" textLength="140.6" lengthAdjust="spacingAndGlyphs">00(h):00(m)</text>
<text x="681.7" y="41.3" font-size="23.5" stroke="#fff" stroke-width="0.55" textLength="42.85" lengthAdjust="spacingAndGlyphs">GMT</text>
<text x="322.2" y="605.6" font-size="19.5" stroke="#fff" stroke-width="0.3" textLength="89.2" lengthAdjust="spacingAndGlyphs">Longitude</text>
<text x="421.3" y="605.6" font-size="19.5" stroke="#fff" stroke-width="0.3" textLength="55.8" lengthAdjust="spacingAndGlyphs">(East)</text>
<text transform="translate(81,382.6) rotate(-90)" x="0" y="0" font-size="19.5" stroke="#fff" stroke-width="0.3" textLength="79.5" lengthAdjust="spacingAndGlyphs">Latitude</text>
<text transform="translate(81,292.2) rotate(-90)" x="0" y="0" font-size="19.5" stroke="#fff" stroke-width="0.3" textLength="57" lengthAdjust="spacingAndGlyphs">(North)</text>
<g stroke="#464646" stroke-width="1.5"><line x1="175.8" y1="101" x2="189.4" y2="101"/><line x1="175.8" y1="105.3" x2="189.4" y2="105.3"/></g>
<text x="152.5" y="109.2" font-size="21" fill="#464646" stroke="#fff" stroke-width="0.15" text-anchor="middle">Z</text>
<text x="212.125" y="109.2" font-size="21" fill="#464646" stroke="#fff" stroke-width="0.15" text-anchor="middle">2</text>
<text x="224.625" y="109.2" font-size="21" fill="#464646" stroke="#fff" stroke-width="0.15" text-anchor="middle">.</text>
<text x="234.5" y="109.2" font-size="21" fill="#464646" stroke="#fff" stroke-width="0.15" text-anchor="middle">5</text>
<text x="265.875" y="109.2" font-size="21" fill="#464646" stroke="#fff" stroke-width="0.15" text-anchor="middle">m</text>
<rect x="709" y="62.00" width="14.2" height="6.58" fill="#730000" shape-rendering="crispEdges"/><rect x="709" y="68.17" width="14.2" height="6.58" fill="#7e0000" shape-rendering="crispEdges"/><rect x="709" y="74.35" width="14.2" height="6.58" fill="#890000" shape-rendering="crispEdges"/><rect x="709" y="80.53" width="14.2" height="6.58" fill="#950000" shape-rendering="crispEdges"/><rect x="709" y="86.70" width="14.2" height="6.58" fill="#a40000" shape-rendering="crispEdges"/><rect x="709" y="92.88" width="14.2" height="6.58" fill="#b30000" shape-rendering="crispEdges"/><rect x="709" y="99.05" width="14.2" height="6.58" fill="#c30000" shape-rendering="crispEdges"/><rect x="709" y="105.22" width="14.2" height="6.58" fill="#d20000" shape-rendering="crispEdges"/><rect x="709" y="111.40" width="14.2" height="6.58" fill="#e20000" shape-rendering="crispEdges"/><rect x="709" y="117.57" width="14.2" height="6.58" fill="#f10000" shape-rendering="crispEdges"/><rect x="709" y="123.75" width="14.2" height="6.58" fill="#ff0200" shape-rendering="crispEdges"/><rect x="709" y="129.93" width="14.2" height="6.58" fill="#ff1200" shape-rendering="crispEdges"/><rect x="709" y="136.10" width="14.2" height="6.58" fill="#ff2300" shape-rendering="crispEdges"/><rect x="709" y="142.27" width="14.2" height="6.58" fill="#ff3400" shape-rendering="crispEdges"/><rect x="709" y="148.45" width="14.2" height="6.58" fill="#ff4400" shape-rendering="crispEdges"/><rect x="709" y="154.62" width="14.2" height="6.58" fill="#ff5300" shape-rendering="crispEdges"/><rect x="709" y="160.80" width="14.2" height="6.58" fill="#ff5d00" shape-rendering="crispEdges"/><rect x="709" y="166.97" width="14.2" height="6.58" fill="#ff6700" shape-rendering="crispEdges"/><rect x="709" y="173.15" width="14.2" height="6.58" fill="#ff7100" shape-rendering="crispEdges"/><rect x="709" y="179.32" width="14.2" height="6.58" fill="#ff7a00" shape-rendering="crispEdges"/><rect x="709" y="185.50" width="14.2" height="6.58" fill="#ff8100" shape-rendering="crispEdges"/><rect x="709" y="191.67" width="14.2" height="6.58" fill="#ff8800" shape-rendering="crispEdges"/><rect x="709" y="197.85" width="14.2" height="6.58" fill="#ff8f00" shape-rendering="crispEdges"/><rect x="709" y="204.03" width="14.2" height="6.58" fill="#ff9600" shape-rendering="crispEdges"/><rect x="709" y="210.20" width="14.2" height="6.58" fill="#ff9d00" shape-rendering="crispEdges"/><rect x="709" y="216.38" width="14.2" height="6.58" fill="#ffa400" shape-rendering="crispEdges"/><rect x="709" y="222.55" width="14.2" height="6.58" fill="#ffab00" shape-rendering="crispEdges"/><rect x="709" y="228.72" width="14.2" height="6.58" fill="#ffb700" shape-rendering="crispEdges"/><rect x="709" y="234.90" width="14.2" height="6.58" fill="#ffd000" shape-rendering="crispEdges"/><rect x="709" y="241.07" width="14.2" height="6.58" fill="#ffe900" shape-rendering="crispEdges"/><rect x="709" y="247.25" width="14.2" height="6.58" fill="#feff01" shape-rendering="crispEdges"/><rect x="709" y="253.42" width="14.2" height="6.58" fill="#f0ff0c" shape-rendering="crispEdges"/><rect x="709" y="259.60" width="14.2" height="6.58" fill="#e3ff17" shape-rendering="crispEdges"/><rect x="709" y="265.77" width="14.2" height="6.58" fill="#d6ff22" shape-rendering="crispEdges"/><rect x="709" y="271.95" width="14.2" height="6.58" fill="#c9ff2e" shape-rendering="crispEdges"/><rect x="709" y="278.12" width="14.2" height="6.58" fill="#bcff39" shape-rendering="crispEdges"/><rect x="709" y="284.30" width="14.2" height="6.58" fill="#afff44" shape-rendering="crispEdges"/><rect x="709" y="290.48" width="14.2" height="6.58" fill="#a1ff4f" shape-rendering="crispEdges"/><rect x="709" y="296.65" width="14.2" height="6.58" fill="#92ff5c" shape-rendering="crispEdges"/><rect x="709" y="302.82" width="14.2" height="6.58" fill="#83ff6a" shape-rendering="crispEdges"/><rect x="709" y="309.00" width="14.2" height="6.58" fill="#73ff78" shape-rendering="crispEdges"/><rect x="709" y="315.17" width="14.2" height="6.58" fill="#64ff86" shape-rendering="crispEdges"/><rect x="709" y="321.35" width="14.2" height="6.58" fill="#55ff94" shape-rendering="crispEdges"/><rect x="709" y="327.52" width="14.2" height="6.58" fill="#45ffa2" shape-rendering="crispEdges"/><rect x="709" y="333.70" width="14.2" height="6.58" fill="#36ffb0" shape-rendering="crispEdges"/><rect x="709" y="339.88" width="14.2" height="6.58" fill="#26ffbd" shape-rendering="crispEdges"/><rect x="709" y="346.05" width="14.2" height="6.58" fill="#17ffcb" shape-rendering="crispEdges"/><rect x="709" y="352.22" width="14.2" height="6.58" fill="#08ffd9" shape-rendering="crispEdges"/><rect x="709" y="358.40" width="14.2" height="6.58" fill="#00f9e2" shape-rendering="crispEdges"/><rect x="709" y="364.57" width="14.2" height="6.58" fill="#00ede6" shape-rendering="crispEdges"/><rect x="709" y="370.75" width="14.2" height="6.58" fill="#00e1ea" shape-rendering="crispEdges"/><rect x="709" y="376.93" width="14.2" height="6.58" fill="#00d5ee" shape-rendering="crispEdges"/><rect x="709" y="383.10" width="14.2" height="6.58" fill="#00caf1" shape-rendering="crispEdges"/><rect x="709" y="389.27" width="14.2" height="6.58" fill="#00bef5" shape-rendering="crispEdges"/><rect x="709" y="395.45" width="14.2" height="6.58" fill="#00b2f9" shape-rendering="crispEdges"/><rect x="709" y="401.62" width="14.2" height="6.58" fill="#00a6fd" shape-rendering="crispEdges"/><rect x="709" y="407.80" width="14.2" height="6.58" fill="#009aff" shape-rendering="crispEdges"/><rect x="709" y="413.97" width="14.2" height="6.58" fill="#008dff" shape-rendering="crispEdges"/><rect x="709" y="420.15" width="14.2" height="6.58" fill="#0081ff" shape-rendering="crispEdges"/><rect x="709" y="426.32" width="14.2" height="6.58" fill="#0074ff" shape-rendering="crispEdges"/><rect x="709" y="432.50" width="14.2" height="6.58" fill="#0068ff" shape-rendering="crispEdges"/><rect x="709" y="438.68" width="14.2" height="6.58" fill="#005bff" shape-rendering="crispEdges"/><rect x="709" y="444.85" width="14.2" height="6.58" fill="#004fff" shape-rendering="crispEdges"/><rect x="709" y="451.02" width="14.2" height="6.58" fill="#0042ff" shape-rendering="crispEdges"/><rect x="709" y="457.20" width="14.2" height="6.58" fill="#0036ff" shape-rendering="crispEdges"/><rect x="709" y="463.38" width="14.2" height="6.58" fill="#0029ff" shape-rendering="crispEdges"/><rect x="709" y="469.55" width="14.2" height="6.58" fill="#001dff" shape-rendering="crispEdges"/><rect x="709" y="475.72" width="14.2" height="6.58" fill="#0010ff" shape-rendering="crispEdges"/><rect x="709" y="481.90" width="14.2" height="6.58" fill="#0004ff" shape-rendering="crispEdges"/><rect x="709" y="488.07" width="14.2" height="6.58" fill="#0000f6" shape-rendering="crispEdges"/><rect x="709" y="494.25" width="14.2" height="6.58" fill="#0000e9" shape-rendering="crispEdges"/><rect x="709" y="500.43" width="14.2" height="6.58" fill="#0000dd" shape-rendering="crispEdges"/><rect x="709" y="506.60" width="14.2" height="6.58" fill="#0000d0" shape-rendering="crispEdges"/><rect x="709" y="512.77" width="14.2" height="6.58" fill="#0000c3" shape-rendering="crispEdges"/><rect x="709" y="518.95" width="14.2" height="6.58" fill="#0000b6" shape-rendering="crispEdges"/><rect x="709" y="525.12" width="14.2" height="6.58" fill="#0000a9" shape-rendering="crispEdges"/><rect x="709" y="531.30" width="14.2" height="6.58" fill="#00009d" shape-rendering="crispEdges"/><rect x="709" y="537.47" width="14.2" height="6.58" fill="#000090" shape-rendering="crispEdges"/><rect x="709" y="543.65" width="14.2" height="6.58" fill="#000083" shape-rendering="crispEdges"/><rect x="709" y="549.83" width="14.2" height="6.58" fill="#000076" shape-rendering="crispEdges"/>
<text x="735.3" y="73.3" font-size="14.6" stroke="#000" stroke-width="0.2" textLength="29.6" lengthAdjust="spacingAndGlyphs">19.0</text>
<text x="735.3" y="189.29999999999998" font-size="14.6" stroke="#000" stroke-width="0.2" textLength="29.6" lengthAdjust="spacingAndGlyphs">17.2</text>
<text x="735.3" y="311.2" font-size="14.6" stroke="#000" stroke-width="0.2" textLength="29.6" lengthAdjust="spacingAndGlyphs">15.2</text>
<text x="735.3" y="433.2" font-size="14.6" stroke="#000" stroke-width="0.2" textLength="29.6" lengthAdjust="spacingAndGlyphs">13.3</text>
<text x="735.3" y="555.7" font-size="14.6" stroke="#000" stroke-width="0.2" textLength="29.6" lengthAdjust="spacingAndGlyphs">11.4</text>
</svg></body></html>
